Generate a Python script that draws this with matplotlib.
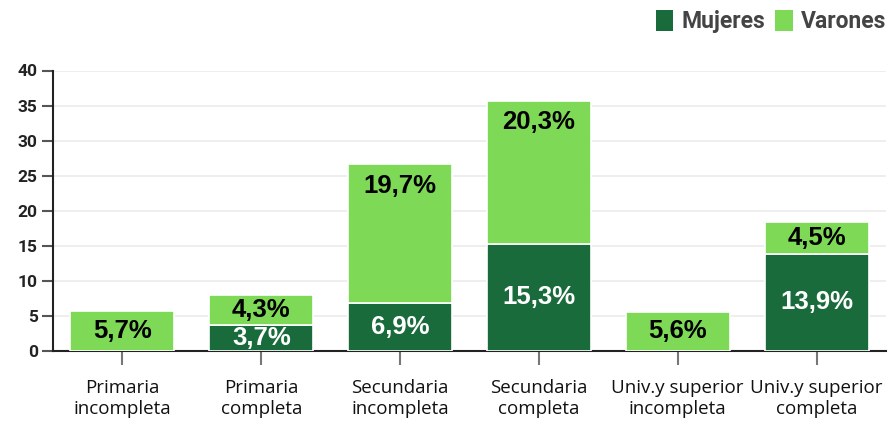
import matplotlib
matplotlib.use('Agg')
import matplotlib.pyplot as plt
from matplotlib.patches import Patch
import numpy as np

categories = ["Primaria\nincompleta", "Primaria\ncompleta", "Secundaria\nincompleta",
              "Secundaria\ncompleta", "Univ.y superior\nincompleta", "Univ.y superior\ncompleta"]
mujeres = [0.0, 3.7, 6.9, 15.3, 0.0, 13.9]
varones = [5.7, 4.3, 19.7, 20.3, 5.6, 4.5]

C_MUJ = "#1a6b3c"
C_VAR = "#7ed957"
GRID = "#ebebeb"

fig = plt.figure(figsize=(8.95, 4.25), dpi=100)
ax = fig.add_axes([53 / 895, 74 / 425, 833 / 895, 280.5 / 425])

x = np.arange(len(categories))
w = 0.75
muj = np.array(mujeres)
var = np.array(varones)
ax.bar(x, muj, width=w, color=C_MUJ, edgecolor="white", linewidth=1.2, zorder=3)
ax.bar(x, var, width=w, bottom=muj, color=C_VAR, edgecolor="white", linewidth=1.2, zorder=3)

lbl_font = dict(fontfamily="Liberation Sans", fontweight="bold", fontstretch="normal",
                fontsize=18.5, ha="center", va="center", zorder=4)
for i in range(len(x)):
    if muj[i] > 0:
        y = min(muj[i] - 4.0, muj[i] / 2) if muj[i] > 8 else muj[i] / 2
        ax.text(x[i], y, f"{muj[i]:.1f}%".replace(".", ","), color="white", **lbl_font)
    top = muj[i] + var[i]
    y = max(muj[i] + var[i] / 2, top - 3.0)
    ax.text(x[i], y, f"{var[i]:.1f}%".replace(".", ","), color="black", **lbl_font)

ax.set_xlim(-0.5, len(categories) - 0.5)
ax.set_ylim(0, 40)
ax.set_yticks(range(0, 41, 5))
ax.yaxis.grid(True, color=GRID, linewidth=1.2)
ax.set_axisbelow(True)

ax.set_xticks(x)
ax.set_xticklabels(categories, fontfamily="Open Sans", fontsize=13.5, color="#111111",
                   linespacing=1.2)
for t in ax.get_yticklabels():
    t.set_fontfamily("Roboto")
    t.set_fontweight("bold")
    t.set_fontsize(12.5)
    t.set_color("#222222")

ax.tick_params(axis="y", length=8, width=1.5, color="#555555", pad=3)
ax.tick_params(axis="x", length=10, width=1.5, color="#777777", pad=10)

for s in ["top", "right"]:
    ax.spines[s].set_visible(False)
for s in ["left", "bottom"]:
    ax.spines[s].set_color("#222222")
    ax.spines[s].set_linewidth(1.5)

handles = [Patch(facecolor=C_MUJ, edgecolor="none", label="Mujeres"),
           Patch(facecolor=C_VAR, edgecolor="none", label="Varones")]
leg = fig.legend(handles=handles, loc="upper right", bbox_to_anchor=(892 / 895, 1 - 4 / 425),
                 ncol=2, frameon=False, handlelength=0.76, handleheight=1.05,
                 handletextpad=0.35, columnspacing=0.45, borderaxespad=0.0,
                 borderpad=0.25,
                 prop=dict(family="Roboto", weight="bold", size=16.5))
for t in leg.get_texts():
    t.set_color("#444444")

fig.savefig("out.png", dpi=100, facecolor="white")
